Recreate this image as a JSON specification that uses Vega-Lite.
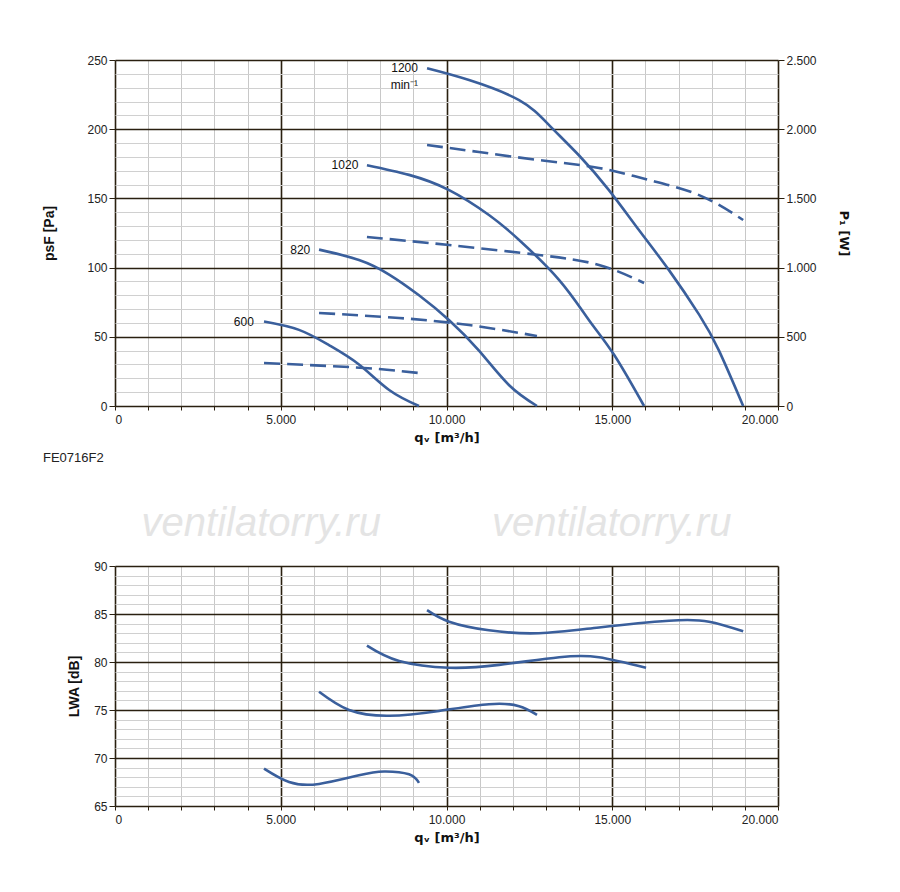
{
  "$schema": "https://vega.github.io/schema/vega-lite/v6.json",
  "padding": {"left": 42, "top": 54, "right": 5, "bottom": 5},
  "spacing": 39,
  "config": {
    "font": "Liberation Sans",
    "view": {"stroke": null},
    "axis": {"labelFontSize": 12, "labelColor": "#222", "titleFontSize": 14, "titleColor": "#111", "domain": false, "tickColor": "#2a2010", "labelFontWeight": "normal"}
  },
  "datasets": {
    "ps": [
      {"n": "1200", "q": 9413, "p": 244}, {"n": "1200", "q": 10680, "p": 235.5}, {"n": "1200", "q": 12190, "p": 221}, {"n": "1200", "q": 13094, "p": 203}, {"n": "1200", "q": 14000, "p": 181}, {"n": "1200", "q": 14900, "p": 156}, {"n": "1200", "q": 15810, "p": 127}, {"n": "1200", "q": 16716, "p": 98}, {"n": "1200", "q": 17620, "p": 66}, {"n": "1200", "q": 18220, "p": 40}, {"n": "1200", "q": 18950, "p": 0},
      {"n": "1020", "q": 7600, "p": 174}, {"n": "1020", "q": 8870, "p": 167}, {"n": "1020", "q": 10080, "p": 156}, {"n": "1020", "q": 11280, "p": 138}, {"n": "1020", "q": 12190, "p": 120}, {"n": "1020", "q": 13400, "p": 91}, {"n": "1020", "q": 14300, "p": 62}, {"n": "1020", "q": 15055, "p": 37}, {"n": "1020", "q": 15960, "p": 0},
      {"n": "820", "q": 6155, "p": 113}, {"n": "820", "q": 7360, "p": 105.5}, {"n": "820", "q": 8270, "p": 95}, {"n": "820", "q": 9170, "p": 80}, {"n": "820", "q": 10080, "p": 62}, {"n": "820", "q": 10980, "p": 40}, {"n": "820", "q": 11890, "p": 15}, {"n": "820", "q": 12730, "p": 0},
      {"n": "600", "q": 4495, "p": 61}, {"n": "600", "q": 5550, "p": 55}, {"n": "600", "q": 6455, "p": 44}, {"n": "600", "q": 7360, "p": 30}, {"n": "600", "q": 8270, "p": 11.6}, {"n": "600", "q": 9170, "p": 0}
    ],
    "pw": [
      {"n": "1200", "q": 9413, "w": 1886}, {"n": "1200", "q": 10980, "w": 1835}, {"n": "1200", "q": 12790, "w": 1777}, {"n": "1200", "q": 14600, "w": 1720}, {"n": "1200", "q": 16110, "w": 1633}, {"n": "1200", "q": 17620, "w": 1524}, {"n": "1200", "q": 18950, "w": 1344},
      {"n": "1020", "q": 7600, "w": 1221}, {"n": "1020", "q": 10080, "w": 1163}, {"n": "1020", "q": 12790, "w": 1091}, {"n": "1020", "q": 14600, "w": 1019}, {"n": "1020", "q": 15960, "w": 889},
      {"n": "820", "q": 6155, "w": 672}, {"n": "820", "q": 8570, "w": 636}, {"n": "820", "q": 10680, "w": 585}, {"n": "820", "q": 12730, "w": 506},
      {"n": "600", "q": 4495, "w": 311}, {"n": "600", "q": 6455, "w": 289}, {"n": "600", "q": 7965, "w": 267}, {"n": "600", "q": 9170, "w": 238}
    ],
    "lab": [
      {"t": "1200", "q": 9200, "p": 244}, {"t": "min⁻¹", "q": 9200, "p": 232},
      {"t": "1020", "q": 7400, "p": 174}, {"t": "820", "q": 5950, "p": 113}, {"t": "600", "q": 4250, "p": 61}
    ],
    "lw": [
      {"n": "1200", "q": 9413, "l": 85.4}, {"n": "1200", "q": 10080, "l": 84.2}, {"n": "1200", "q": 11280, "l": 83.3}, {"n": "1200", "q": 12790, "l": 83.0}, {"n": "1200", "q": 14600, "l": 83.6}, {"n": "1200", "q": 16716, "l": 84.3}, {"n": "1200", "q": 17920, "l": 84.2}, {"n": "1200", "q": 18950, "l": 83.2},
      {"n": "1020", "q": 7600, "l": 81.7}, {"n": "1020", "q": 8570, "l": 80.1}, {"n": "1020", "q": 10080, "l": 79.4}, {"n": "1020", "q": 11590, "l": 79.7}, {"n": "1020", "q": 13400, "l": 80.5}, {"n": "1020", "q": 14600, "l": 80.5}, {"n": "1020", "q": 16020, "l": 79.4},
      {"n": "820", "q": 6155, "l": 76.9}, {"n": "820", "q": 7060, "l": 75.0}, {"n": "820", "q": 8270, "l": 74.4}, {"n": "820", "q": 9775, "l": 74.9}, {"n": "820", "q": 11280, "l": 75.6}, {"n": "820", "q": 12190, "l": 75.4}, {"n": "820", "q": 12730, "l": 74.5},
      {"n": "600", "q": 4495, "l": 68.9}, {"n": "600", "q": 5250, "l": 67.5}, {"n": "600", "q": 6155, "l": 67.3}, {"n": "600", "q": 7360, "l": 68.2}, {"n": "600", "q": 8115, "l": 68.6}, {"n": "600", "q": 8870, "l": 68.3}, {"n": "600", "q": 9170, "l": 67.4}
    ]
  },
  "vconcat": [
    {
      "width": 663,
      "height": 346,
      "title": {"text": "FE0716F2", "orient": "bottom", "anchor": "start", "offset": 8, "fontSize": 13, "fontWeight": "normal", "color": "#222"},
      "encoding": {
        "x": {"field": "q", "type": "quantitative", "scale": {"domain": [0, 20000], "nice": false},
          "axis": {"title": "qᵥ [m³/h]", "titleFont": "DejaVu Sans", "titleFontSize": 13, "values": [0,1000,2000,3000,4000,5000,6000,7000,8000,9000,10000,11000,12000,13000,14000,15000,16000,17000,18000,19000,20000],
            "labelExpr": "datum.value % 5000 === 0 ? replace(format(datum.value, ','), ',', '.') : ''",
            "gridColor": {"condition": {"test": "datum.value % 5000 === 0", "value": "#2a2010"}, "value": "#c8c8c8"},
            "gridWidth": {"condition": {"test": "datum.value % 5000 === 0", "value": 1.6}, "value": 1},
            "tickSize": 4, "labelPadding": 4, "titlePadding": 6}}
      },
      "layer": [
        {
          "data": {"name": "ps"},
          "mark": {"type": "line", "color": "#3a5f9c", "strokeWidth": 2.6, "interpolate": "natural"},
          "encoding": {
            "y": {"field": "p", "type": "quantitative", "scale": {"domain": [0, 250], "nice": false},
              "axis": {"title": "psF [Pa]", "titlePadding": 30, "values": [0,10,20,30,40,50,60,70,80,90,100,110,120,130,140,150,160,170,180,190,200,210,220,230,240,250],
                "labelExpr": "datum.value % 50 === 0 ? datum.label : ''",
                "gridColor": {"condition": {"test": "datum.value % 50 === 0", "value": "#2a2010"}, "value": "#d0d0d0"},
                "gridWidth": {"condition": {"test": "datum.value % 50 === 0", "value": 1.6}, "value": 1},
                "tickSize": {"condition": {"test": "datum.value % 50 === 0", "value": 6}, "value": 0}}},
            "detail": {"field": "n"}
          }
        },
        {
          "data": {"name": "lab"},
          "mark": {"type": "text", "align": "right", "fontSize": 12, "color": "#111", "dx": -2},
          "encoding": {
            "y": {"field": "p", "type": "quantitative", "scale": {"domain": [0, 250], "nice": false}, "axis": null},
            "text": {"field": "t"}
          }
        },
        {
          "data": {"name": "pw"},
          "mark": {"type": "line", "color": "#3a5f9c", "strokeWidth": 2.6, "strokeDash": [16, 7], "interpolate": "natural"},
          "encoding": {
            "y": {"field": "w", "type": "quantitative", "scale": {"domain": [0, 2500], "nice": false},
              "axis": {"orient": "right", "title": "P₁ [W]", "titleFont": "DejaVu Sans", "titleFontSize": 13, "titlePadding": 20, "grid": false, "values": [0, 500, 1000, 1500, 2000, 2500],
                "labelExpr": "replace(format(datum.value, ','), ',', '.')", "tickSize": 6}},
            "detail": {"field": "n"}
          }
        }
      ],
      "resolve": {"scale": {"y": "independent"}}
    },
    {
      "width": 663,
      "height": 240,
      "title": {"text": "ventilatorry.ru\u00a0\u00a0\u00a0\u00a0\u00a0\u00a0\u00a0\u00a0\u00a0\u00a0ventilatorry.ru", "fontSize": 40, "fontStyle": "italic", "fontWeight": "normal", "color": "#e4e4e4", "anchor": "middle", "dx": -10, "offset": 16},
      "data": {"name": "lw"},
      "mark": {"type": "line", "color": "#3a5f9c", "strokeWidth": 2.6, "interpolate": "natural"},
      "encoding": {
        "x": {"field": "q", "type": "quantitative", "scale": {"domain": [0, 20000], "nice": false},
          "axis": {"title": "qᵥ [m³/h]", "titleFont": "DejaVu Sans", "titleFontSize": 13, "values": [0,1000,2000,3000,4000,5000,6000,7000,8000,9000,10000,11000,12000,13000,14000,15000,16000,17000,18000,19000,20000],
            "labelExpr": "datum.value % 5000 === 0 ? replace(format(datum.value, ','), ',', '.') : ''",
            "gridColor": {"condition": {"test": "datum.value % 5000 === 0", "value": "#2a2010"}, "value": "#c8c8c8"},
            "gridWidth": {"condition": {"test": "datum.value % 5000 === 0", "value": 1.6}, "value": 1},
            "tickSize": 4, "labelPadding": 4, "titlePadding": 6}},
        "y": {"field": "l", "type": "quantitative", "scale": {"domain": [65, 90], "nice": false, "zero": false},
          "axis": {"title": "LWA [dB]", "titlePadding": 12, "values": [65,66,67,68,69,70,71,72,73,74,75,76,77,78,79,80,81,82,83,84,85,86,87,88,89,90],
            "labelExpr": "datum.value % 5 === 0 ? datum.label : ''",
            "gridColor": {"condition": {"test": "datum.value % 5 === 0", "value": "#2a2010"}, "value": "#d0d0d0"},
            "gridWidth": {"condition": {"test": "datum.value % 5 === 0", "value": 1.6}, "value": 1},
            "tickSize": {"condition": {"test": "datum.value % 5 === 0", "value": 6}, "value": 0}}},
        "detail": {"field": "n"}
      }
    }
  ]
}
